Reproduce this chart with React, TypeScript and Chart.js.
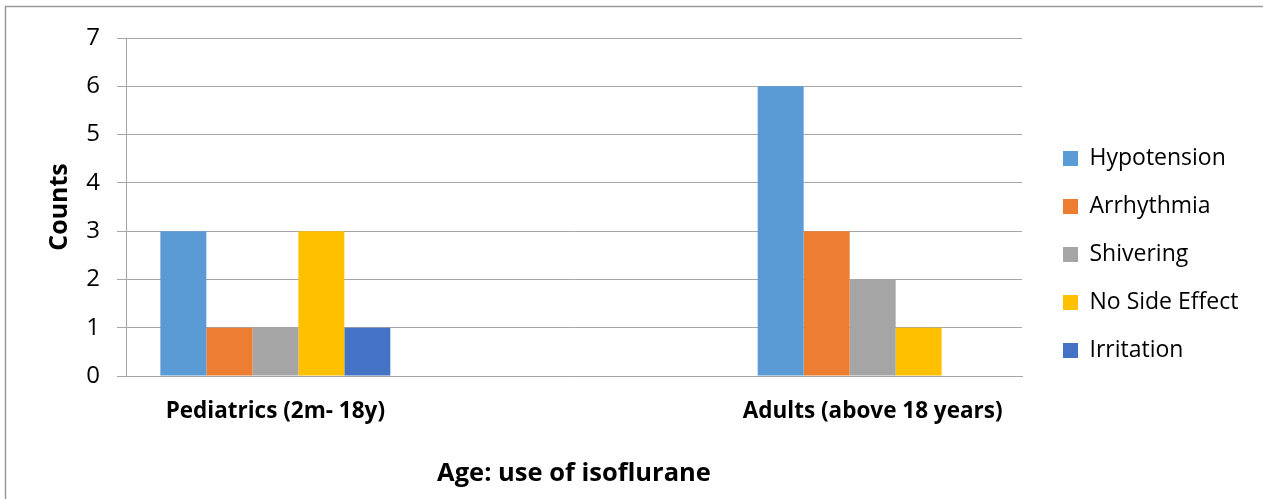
import { useEffect, useRef } from 'react';
import { Chart, registerables } from 'chart.js';

Chart.register(...registerables);

// ---- data ----
const categories: string[] = ['Pediatrics (2m- 18y)', '', 'Adults (above 18 years)'];
const seriesNames: string[] = ['Hypotension', 'Arrhythmia', 'Shivering', 'No Side Effect', 'Irritation'];
const hypotension: (number | null)[] = [3, null, 6];
const arrhythmia: (number | null)[] = [1, null, 3];
const shivering: (number | null)[] = [1, null, 2];
const noSideEffect: (number | null)[] = [3, null, 1];
const irritation: (number | null)[] = [1, null, null];
const seriesColors: string[] = ['#5B9BD5', '#ED7D31', '#A5A5A5', '#FFC000', '#4472C4'];
const yMin = 0;
const yMax = 7;
const yStep = 1;
const yTitle = 'Counts';
const xTitle = 'Age: use of isoflurane';

const W = 1263;
const H = 499;
const FONT = '"Open Sans", "Noto Sans", sans-serif';
const GRID = '#a6a6a6';
const LEGEND_GAP = 16;

const legendFix = {
  id: 'legendFix',
  beforeLayout(chart: any) {
    const lg: any = chart.legend;
    if (lg && !lg.__patched) {
      const orig = lg.fit.bind(lg);
      lg.fit = function () {
        orig();
        this.width = W - 1022 - LEGEND_GAP;
      };
      lg.__patched = true;
    }
  },
};

const frame = {
  id: 'frame',
  afterDraw(chart: any) {
    const ctx = chart.ctx;
    ctx.save();
    ctx.strokeStyle = '#9a9a9a';
    ctx.lineWidth = 1.5;
    ctx.beginPath();
    ctx.moveTo(5.5, H + 5);
    ctx.lineTo(5.5, 6.5);
    ctx.lineTo(W + 5, 6.5);
    ctx.stroke();
    ctx.restore();
  },
};

export default function App() {
  const ref = useRef<HTMLCanvasElement | null>(null);

  useEffect(() => {
    if (!ref.current) return;
    const all = [hypotension, arrhythmia, shivering, noSideEffect, irritation];
    const chart = new Chart(ref.current, {
      type: 'bar',
      data: {
        labels: categories,
        datasets: all.map((d, i) => ({
          label: seriesNames[i],
          data: d,
          backgroundColor: seriesColors[i],
          borderWidth: 0,
          categoryPercentage: 0.77,
          barPercentage: 1,
        })),
      },
      options: {
        responsive: false,
        animation: false,
        layout: { padding: { top: 10, left: 0, right: 0, bottom: 0 } },
        plugins: {
          title: {
            display: true,
            text: '',
            font: { size: 10 },
            padding: { top: 16, bottom: 0 },
          },
          tooltip: { enabled: false },
          legend: {
            position: 'right',
            align: 'center',
            labels: {
              boxWidth: 15,
              boxHeight: 15,
              padding: 25,
              color: '#000',
              font: { family: FONT, size: 23 },
            },
          },
        },
        scales: {
          x: {
            grid: { display: false, drawTicks: false },
            border: { display: true, color: GRID, width: 1 },
            ticks: {
              color: '#000',
              padding: 22,
              font: { family: FONT, size: 22.5, weight: 'bold' },
              maxRotation: 0,
              autoSkip: false,
            },
            title: {
              display: true,
              text: xTitle,
              color: '#000',
              font: { family: FONT, size: 25.5, weight: 'bold' },
              padding: { top: 0, bottom: 10 },
            },
            afterFit: (s: any) => {
              s.height = H - 376;
            },
          },
          y: {
            min: yMin,
            max: yMax,
            grid: { color: GRID, tickColor: GRID, tickLength: 9, lineWidth: 1 },
            border: { display: true, color: GRID, width: 1 },
            ticks: {
              stepSize: yStep,
              color: '#000',
              padding: 17,
              font: { family: FONT, size: 24 },
            },
            title: {
              display: true,
              text: yTitle,
              color: '#000',
              font: { family: FONT, size: 25, weight: 'bold' },
              padding: { top: 45, bottom: 0 },
            },
            afterFit: (s: any) => {
              s.width = 126;
            },
          },
          y2: {
            position: 'right',
            display: true,
            grid: { display: false, drawTicks: false },
            border: { display: false },
            ticks: { display: false },
            afterFit: (s: any) => {
              s.width = LEGEND_GAP;
            },
          },
        },
      } as any,
      plugins: [legendFix, frame],
    });
    return () => chart.destroy();
  }, []);

  return (
    <div style={{ position: 'fixed', left: 0, top: 0, width: W, height: H, background: '#fff' }}>
      <canvas ref={ref} width={W} height={H} style={{ width: W, height: H, display: 'block' }} />
    </div>
  );
}
